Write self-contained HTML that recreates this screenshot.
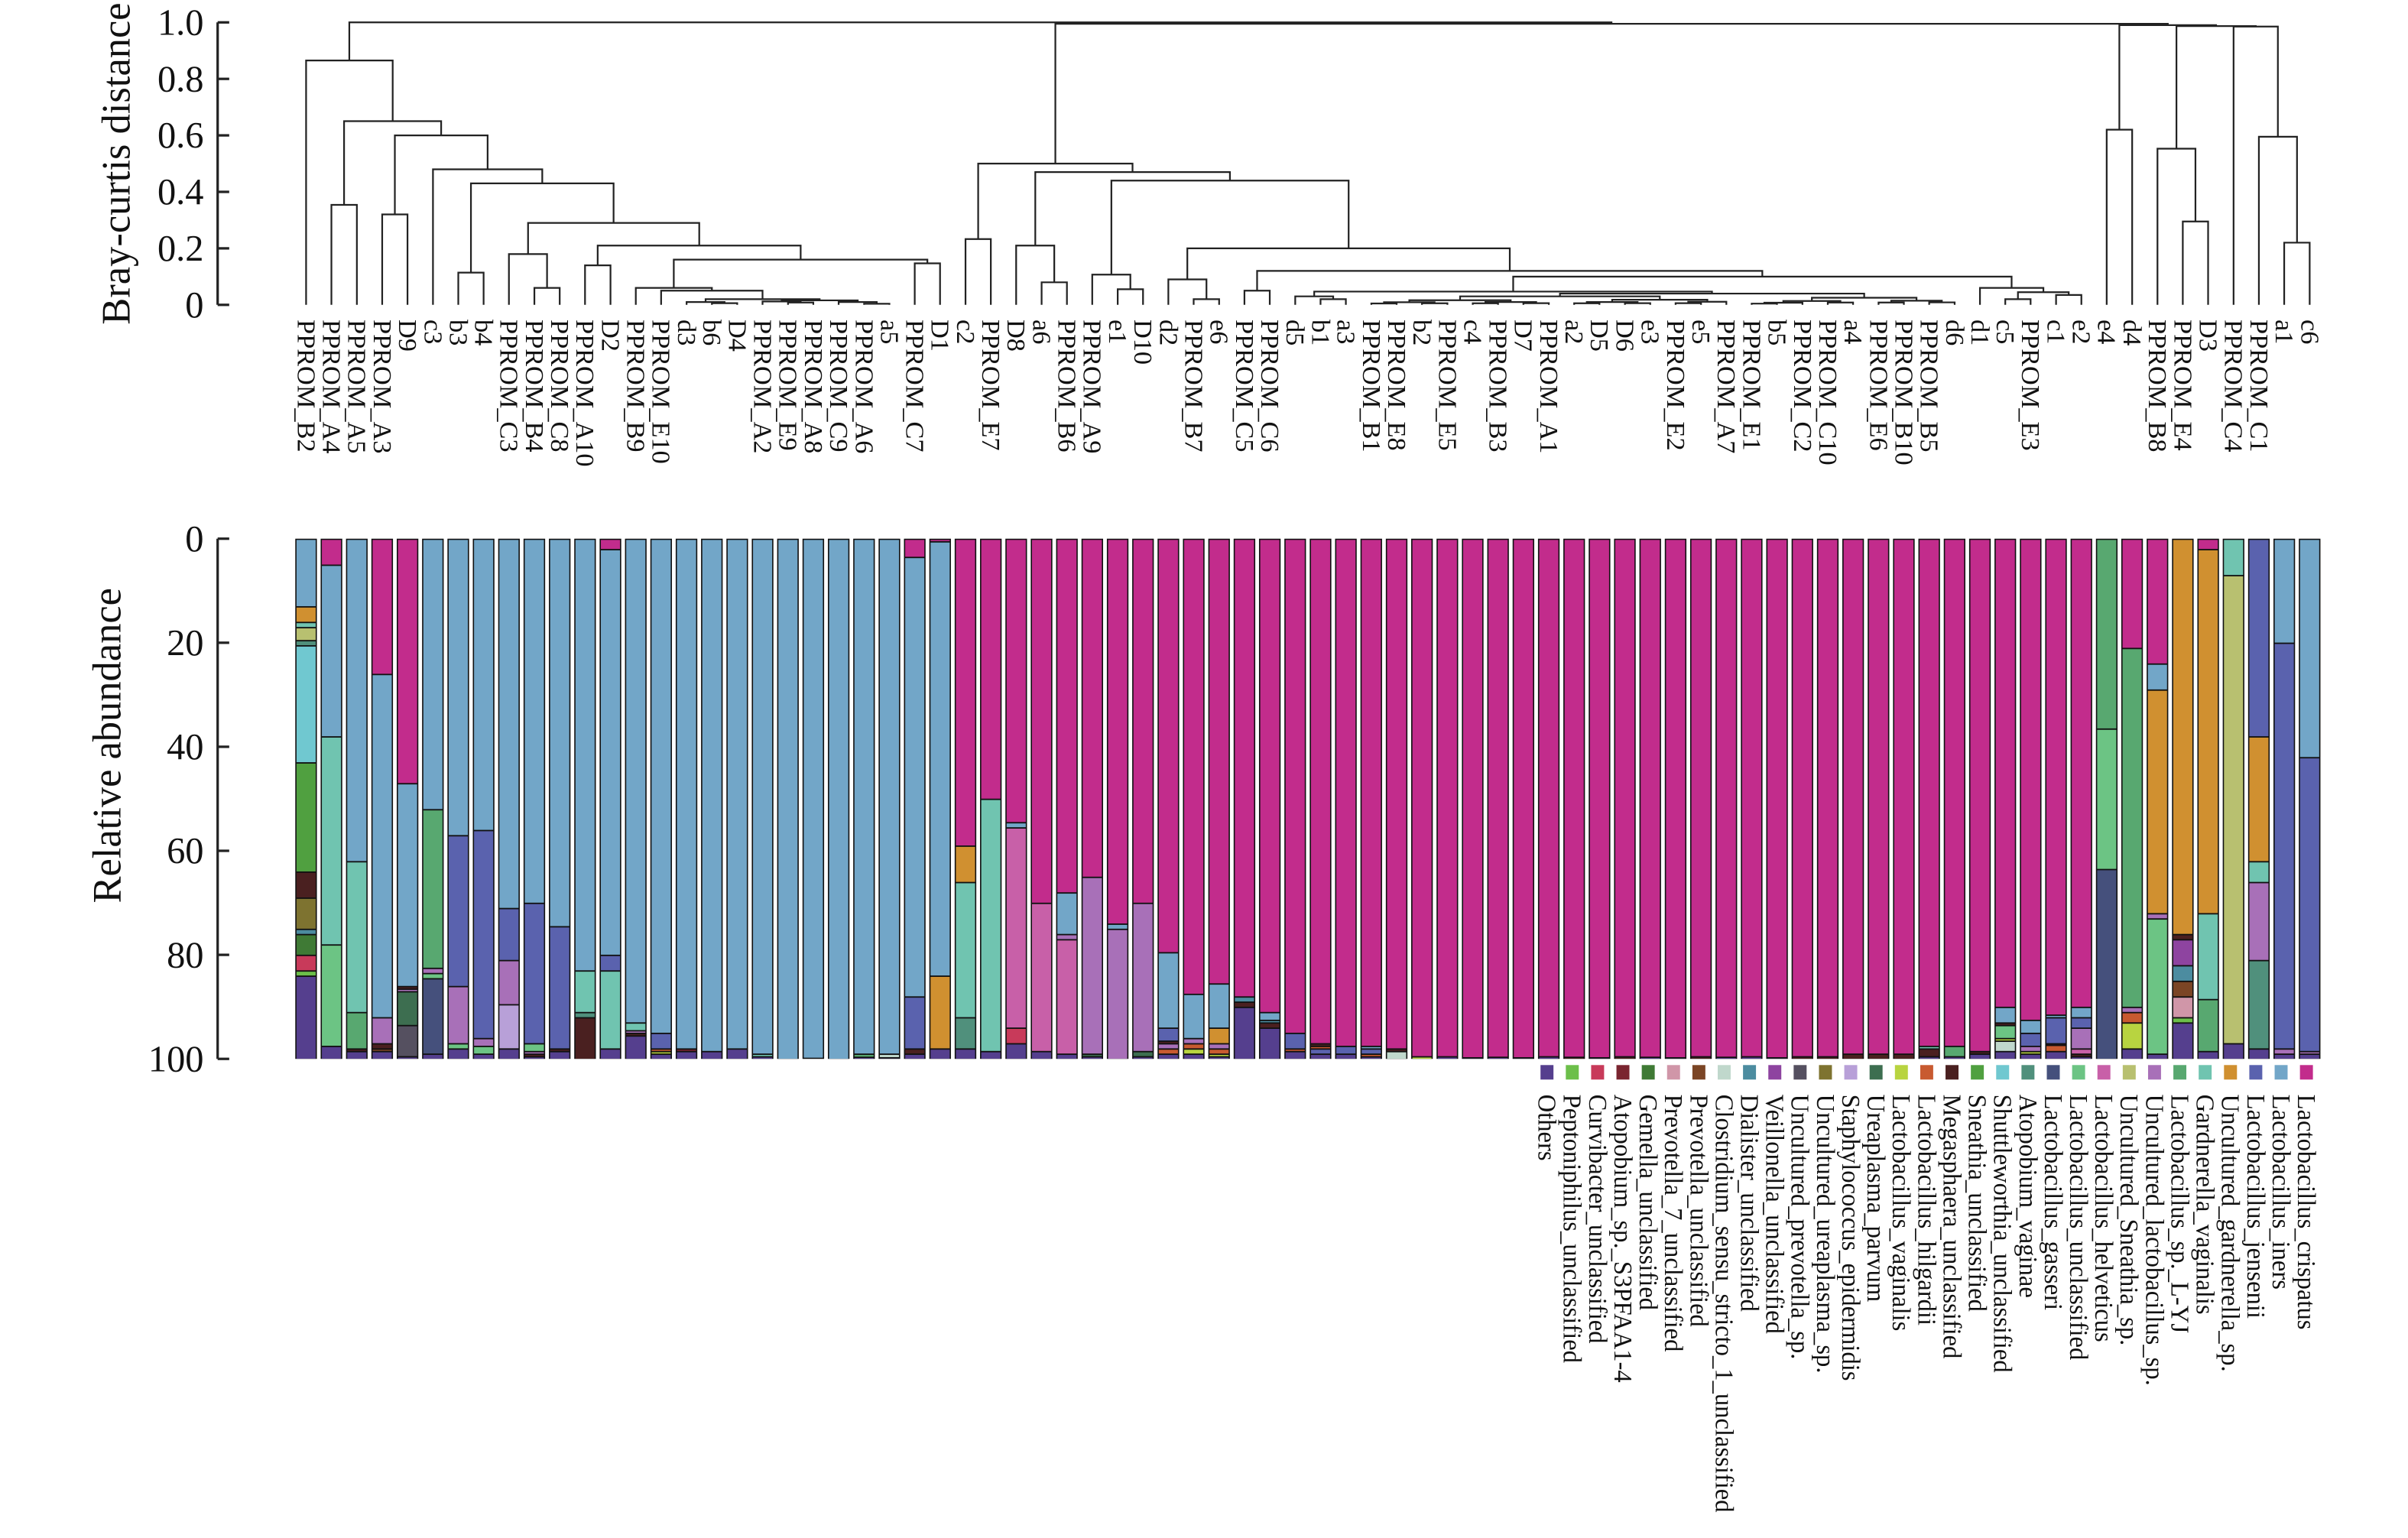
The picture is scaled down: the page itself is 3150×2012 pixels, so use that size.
<!DOCTYPE html>
<html><head><meta charset="utf-8">
<style>
html,body{margin:0;padding:0;background:#fff;}
svg{display:block;}
text{font-family:"Liberation Serif",serif;fill:#111;}
</style></head>
<body>
<svg id="s" xmlns="http://www.w3.org/2000/svg" width="3150" height="2012" viewBox="0 0 1560 996.4" preserveAspectRatio="none"></svg>
<script>
(function(){
const S=document.getElementById('s');
let out='';
const C={O:'#553f8e',PEP:'#6cbf4a',CUR:'#c83a5a',ATS:'#7a2530',GEM:'#3f7a35',PR7:'#d096a8',PRE:'#7b4525',CLO:'#c0d8cc',DIA:'#4c8ca0',VEI:'#8e44a0',UPR:'#555060',UUR:'#7e7330',STA:'#b8a0d8',UPA:'#3d6e50',LVA:'#b8d440',LHI:'#c85a30',MEG:'#4a2020',SNE:'#50a040',SHU:'#70c8d0',AVA:'#50907c',LGA:'#45507c',LUN:'#6cc484',LHE:'#c860a8',USN:'#b8c070',ULA:'#a870b8',LYJ:'#58a870',GVA:'#70c4b0',UGA:'#d09030',LJE:'#5a62ae',LIN:'#72a6c8',LCR:'#c22c8c'};
// axes
out+='<line x1="141" y1="14.5" x2="141" y2="197.5" stroke="#222" stroke-width="1.6"/>';
for(let i=0;i<=5;i++){const y=197.5-i*36.6;out+=`<line x1="141" y1="${y}" x2="148.5" y2="${y}" stroke="#222" stroke-width="1.6"/><text x="132" y="${y+8}" font-size="24" text-anchor="end">${i==0?'0':(i/5).toFixed(1)}</text>`;}
out+='<text transform="translate(84,106) rotate(-90)" font-size="26" text-anchor="middle">Bray-curtis distance</text>';
out+='<line x1="141" y1="349" x2="141" y2="686" stroke="#222" stroke-width="1.6"/>';
for(let i=0;i<=5;i++){const y=349+i*67.4;out+=`<line x1="141" y1="${y}" x2="148.5" y2="${y}" stroke="#222" stroke-width="1.6"/><text x="132" y="${y+8}" font-size="24" text-anchor="end">${i*20}</text>`;}
out+='<text transform="translate(78,483) rotate(-90)" font-size="26" text-anchor="middle">Relative abundance</text>';
// dendrogram
const LX=i=>198.3+16.43*i, HY=h=>197.5-183*h;
function tiny(a,b,h){if(a==b)return a;const m=Math.floor((a+b)/2);return{l:tiny(a,m,h*0.55),r:tiny(m+1,b,h*0.6),h:h};}
const N=(l,r,h)=>({l:l,r:r,h:h});
const O=N(N(18,N(19,20,0.008),0.012),N(21,N(22,23,0.004),0.01),0.016);
const P=N(15,N(16,17,0.006),0.01);
const Q=N(P,O,0.02), R=N(14,Q,0.05), Sn=N(13,R,0.06), T=N(Sn,N(24,25,0.147),0.16);
const U=N(N(11,12,0.14),T,0.21), V=N(N(8,N(9,10,0.06),0.18),U,0.29), W=N(N(6,7,0.114),V,0.43);
const Z=N(5,W,0.48), Y=N(N(3,4,0.32),Z,0.6), X=N(N(1,2,0.354),Y,0.65), LEFT=N(0,X,0.865);
const big=N(tiny(42,56,0.03),tiny(57,65,0.025),0.04);
const K=N(N(39,N(40,41,0.02),0.03),big,0.047);
const J=N(66,N(N(67,68,0.02),N(69,70,0.035),0.045),0.06);
const Lc=N(K,J,0.1), M=N(N(37,38,0.05),Lc,0.12);
const N4=N(N(34,N(35,36,0.02),0.09),M,0.2);
const N3=N(N(31,N(32,33,0.055),0.107),N4,0.44);
const N2=N(N(28,N(29,30,0.08),0.21),N3,0.47);
const N1=N(N(26,27,0.233),N2,0.5);
const P1=N(76,N(77,N(78,79,0.22),0.595),0.985);
const P2=N(N(73,N(74,75,0.295),0.553),P1,0.987);
const P3=N(N(71,72,0.62),P2,0.99);
const ROOT=N(LEFT,N(N1,P3,0.995),1.0);
function draw(n){if(typeof n==='number')return{x:LX(n),y:197.5};const a=draw(n.l),b=draw(n.r),y=HY(n.h);
out+=`<path d="M${a.x.toFixed(1)} ${a.y.toFixed(1)}V${y.toFixed(1)}H${b.x.toFixed(1)}V${b.y.toFixed(1)}" fill="none" stroke="#222" stroke-width="1.1"/>`;return{x:(a.x+b.x)/2,y:y};}
draw(ROOT);
const names="PPROM_B2 PPROM_A4 PPROM_A5 PPROM_A3 D9 c3 b3 b4 PPROM_C3 PPROM_B4 PPROM_C8 PPROM_A10 D2 PPROM_B9 PPROM_E10 d3 b6 D4 PPROM_A2 PPROM_E9 PPROM_A8 PPROM_C9 PPROM_A6 a5 PPROM_C7 D1 c2 PPROM_E7 D8 a6 PPROM_B6 PPROM_A9 e1 D10 d2 PPROM_B7 e6 PPROM_C5 PPROM_C6 d5 b1 a3 PPROM_B1 PPROM_E8 b2 PPROM_E5 c4 PPROM_B3 D7 PPROM_A1 a2 D5 D6 e3 PPROM_E2 e5 PPROM_A7 PPROM_E1 b5 PPROM_C2 PPROM_C10 a4 PPROM_E6 PPROM_B10 PPROM_B5 d6 d1 c5 PPROM_E3 c1 e2 e4 d4 PPROM_B8 PPROM_E4 D3 PPROM_C4 PPROM_C1 a1 c6".split(' ');
names.forEach((t,i)=>{out+=`<text transform="translate(${(LX(i)-5.5).toFixed(1)},207) rotate(90)" font-size="17">${t}</text>`;});
// bars
const B=[
"LIN13 UGA16 GVA17 USN19.5 AVA20.5 SHU43 SNE64 MEG69 UUR75 DIA76 GEM80 CUR83 PEP84 O100",
"LCR5 LIN38 GVA78 LUN97.5 O100","LIN62 GVA91 LYJ98 MEG98.5 O100","LCR26 LIN92 ULA97 MEG98 PRE98.5 O100",
"LCR47 LIN86 MEG86.5 ULA87 UPA93.5 UPR99.5 O100","LIN52 LYJ82.5 ULA83.5 LUN84.5 LGA99 O100",
"LIN57 LJE86 ULA97 LUN98 O100","LIN56 LJE96 ULA97.5 LUN99 O100","LIN71 LJE81 ULA89.5 STA98 O100",
"LIN70 LJE97 LUN98.5 ULA99 MEG99.5 O100","LIN74.5 LJE98 MEG98.5 O100","LIN83 GVA91 AVA92 MEG100",
"LCR2 LIN80 LJE83 GVA98 O100","LIN93 GVA94.5 ULA95 MEG95.5 O100","LIN95 LJE98 LHI98.5 LVA99 O100",
"LIN98 ATS98.5 O100","LIN98.5 O100","LIN98 O100","LIN99 GVA99.5 O100","LIN100","LIN99.8 O100","LIN100",
"LIN99 LYJ99.6 O100","LIN99 CLO99.7 O100","LCR3.5 LIN88 LJE98 MEG99 O100","LCR0.5 LIN84 UGA98 O100",
"LCR59 UGA66 GVA92 AVA98 O100","LCR50 GVA98.5 O100","LCR54.5 LIN55.5 LHE94 CUR97 O100","LCR70 LHE98.5 O100",
"LCR68 LIN76 ULA77 LHE99 O100","LCR65 ULA99 UPA99.5 O100","LCR74 LIN75 ULA100","LCR70 ULA98.5 UPA99.5 O100",
"LCR79.5 LIN94 LJE96.5 MEG97 ULA98 LHI99 O100","LCR87.5 LIN96 ULA97 LHI98 LVA99 O100",
"LCR85.5 LIN94 UGA97 ULA98 LHI99 LVA99.5 O100","LCR88 DIA89 MEG90 O100","LCR91 LIN92.5 DIA93 MEG94 O100",
"LCR95 LJE98 LHI98.5 O100","LCR97 MEG97.5 LHI98 LJE99 O100","LCR97.5 LJE99 O100","LCR97.5 LIN98 LJE99 LHI99.5 O100",
"LCR98 MEG98.5 CLO100","LCR99.5 LVA100","LCR99.5 O100","LCR99.7 O100","LCR99.6 O100","LCR99.7 O100","LCR99.5 O100",
"LCR99.6 MEG100","LCR99.7 O100","LCR99.5 MEG100","LCR99.6 O100","LCR99.7 O100","LCR99.5 MEG100","LCR99.6 O100",
"LCR99.5 O100","LCR99.7 O100","LCR99.5 MEG100","LCR99.5 MEG100","LCR99 MEG100","LCR99 MEG100","LCR99 MEG100",
"LCR97.5 GVA98 MEG99.5 O100","LCR97.5 LYJ99.5 O100","LCR98.5 MEG99 O100",
"LCR90 LIN93 MEG93.5 LUN96 LVA96.5 CLO98.5 O100","LCR92.5 LIN95 LJE97.5 ULA98.5 LVA99 O100",
"LCR91.5 LIN92 LJE97 MEG97.3 LHI98.5 O100","LCR90 LIN92 LJE94 ULA98 LHE99 MEG99.5 O100",
"LYJ36.5 LUN63.5 LGA100","LCR21 LYJ90 ULA91 LHI93 LVA98 O100","LCR24 LIN29 UGA72 ULA73 LUN99 O100",
"UGA76 MEG77 VEI82 DIA85 PRE88 PR7:92 PEP93 O100","LCR2 UGA72 GVA88.5 LYJ98.5 O100",
"GVA7 USN97 O100","LJE38 UGA62 GVA66 ULA81 AVA98 O100","LIN20 LJE98 ULA99 O100","LIN42 LJE98.5 ULA99 O100"];
const y0b=349,H=337,bw=14;
B.forEach((s,i)=>{const x=LX(i)-7;let prev=0;
out+=`<rect x="${x.toFixed(2)}" y="${y0b}" width="${bw}" height="${H}" fill="#111"/>`;
s.split(' ').forEach(tok=>{const m=tok.match(/^(PR7|[A-Z]+):?([\d.]+)$/);if(!m)return;const k=m[1],v=parseFloat(m[2]);
const ya=y0b+H*prev/100,yb=y0b+H*v/100;
if(yb-ya>0.95)out+=`<rect x="${(x+0.8).toFixed(2)}" y="${(ya+0.8).toFixed(2)}" width="${bw-1.6}" height="${(yb-ya-0.9).toFixed(2)}" fill="${C[k]||'#111'}"/>`;prev=v;});
});
// legend
const leg=[["O","Others"],["PEP","Peptoniphilus_unclassified"],["CUR","Curvibacter_unclassified"],["ATS","Atopobium_sp._S3PFAA1-4"],["GEM","Gemella_unclassified"],["PR7","Prevotella_7_unclassified"],["PRE","Prevotella_unclassified"],["CLO","Clostridium_sensu_stricto_1_unclassified"],["DIA","Dialister_unclassified"],["VEI","Veillonella_unclassified"],["UPR","Uncultured_prevotella_sp."],["UUR","Uncultured_ureaplasma_sp."],["STA","Staphylococcus_epidermidis"],["UPA","Ureaplasma_parvum"],["LVA","Lactobacillus_vaginalis"],["LHI","Lactobacillus_hilgardii"],["MEG","Megasphaera_unclassified"],["SNE","Sneathia_unclassified"],["SHU","Shuttleworthia_unclassified"],["AVA","Atopobium_vaginae"],["LGA","Lactobacillus_gasseri"],["LUN","Lactobacillus_unclassified"],["LHE","Lactobacillus_helveticus"],["USN","Uncultured_Sneathia_sp."],["ULA","Uncultured_lactobacillus_sp."],["LYJ","Lactobacillus_sp._L-YJ"],["GVA","Gardnerella_vaginalis"],["UGA","Uncultured_gardnerella_sp."],["LJE","Lactobacillus_jensenii"],["LIN","Lactobacillus_iners"],["LCR","Lactobacillus_crispatus"]];
leg.forEach((l,i)=>{const cx=1002.2+16.4*i;
out+=`<rect x="${(cx-4.2).toFixed(1)}" y="690" width="8.4" height="9.4" fill="${C[l[0]]}"/>`;
out+=`<text transform="translate(${(cx-5.5).toFixed(1)},709) rotate(90) scale(0.95,1)" font-size="17">${l[1]}</text>`;});
S.innerHTML=out;
})();
</script>
</body></html>
